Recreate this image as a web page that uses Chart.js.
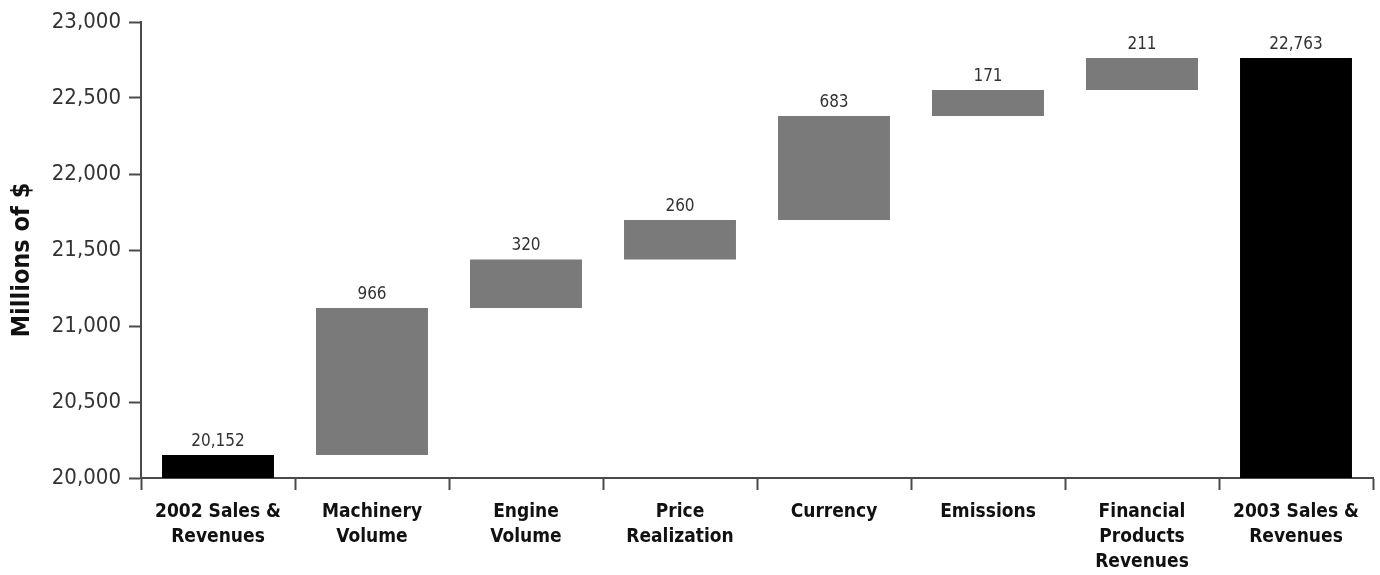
<!DOCTYPE html>
<html>
<head>
<meta charset="utf-8">
<script src="https://cdn.jsdelivr.net/npm/chart.js@4/dist/chart.umd.min.js"></script>
<style>
    html, body { margin: 0; padding: 0; background: #fff; }
    #wrap { width: 1380px; height: 575px; }
</style>
</head>
<body>
<div id="wrap"><canvas id="waterfall"></canvas></div>
<script>
// data
const categories = [
    ['2002 Sales &', 'Revenues'],
    ['Machinery', 'Volume'],
    ['Engine', 'Volume'],
    ['Price', 'Realization'],
    ['Currency'],
    ['Emissions'],
    ['Financial', 'Products', 'Revenues'],
    ['2003 Sales &', 'Revenues']
];
const startTotal = 20152;
const changes = [966, 320, 260, 683, 171, 211];
const endTotal = 22763;
const yTicks = [20000, 20500, 21000, 21500, 22000, 22500, 23000];
const yTitle = 'Millions of $';

const BASE = 20000;
const totalColor = '#000000';
const stepColor = '#7a7a7a';
const axisColor = '#4a4a4a';
const narrow = '"DejaVu Sans Condensed", "Liberation Sans Narrow", sans-serif';

// build floating ranges
let ranges = [[BASE, startTotal]];
let labels = [startTotal];
let colors = [totalColor];
let run = startTotal;
changes.forEach(c => {
    ranges.push([run, run + c]);
    labels.push(c);
    colors.push(stepColor);
    run += c;
});
ranges.push([BASE, endTotal]);
labels.push(endTotal);
colors.push(totalColor);

const fmt = (v) => v.toLocaleString('en-US');

// value labels on top of each bar + y axis title
const valueLabels = {
    id: 'valueLabels',
    afterDatasetsDraw(chart) {
        const ctx = chart.ctx;
        const meta = chart.getDatasetMeta(0);
        ctx.save();
        ctx.font = '17px ' + narrow;
        ctx.fillStyle = '#333';
        ctx.textAlign = 'center';
        ctx.textBaseline = 'bottom';
        meta.data.forEach((bar, i) => {
            const top = Math.min(bar.y, bar.base);
            ctx.fillText(fmt(labels[i]), bar.x, top - 5);
        });
        ctx.restore();

        // axis title, a bit below the middle like the original
        const area = chart.chartArea;
        ctx.save();
        ctx.translate(22, (area.top + area.bottom) / 2 + 10);
        ctx.rotate(-Math.PI / 2);
        ctx.font = 'bold 25px ' + narrow;
        ctx.fillStyle = '#111';
        ctx.textAlign = 'center';
        ctx.textBaseline = 'middle';
        ctx.fillText(yTitle, 0, 0);
        ctx.restore();
    }
};

const chart = new Chart(document.getElementById('waterfall'), {
    type: 'bar',
    data: {
        labels: categories,
        datasets: [{
            data: ranges,
            backgroundColor: colors,
            borderWidth: 0,
            categoryPercentage: 1,
            barPercentage: 0.727
        }]
    },
    options: {
        responsive: true,
        maintainAspectRatio: false,
        animation: false,
        layout: { padding: { top: 22, right: 7, left: 0, bottom: 0 } },
        plugins: {
            legend: { display: false },
            tooltip: { enabled: false }
        },
        scales: {
            x: {
                grid: {
                    offset: true,
                    drawOnChartArea: false,
                    drawTicks: true,
                    tickLength: 12,
                    tickWidth: 2,
                    tickColor: axisColor
                },
                border: { display: true, color: axisColor, width: 2 },
                ticks: {
                    color: '#111',
                    padding: 10,
                    maxRotation: 0,
                    autoSkip: false,
                    font: { family: narrow, size: 19, weight: 'bold', lineHeight: 1.3 }
                },
                afterFit: (scale) => { scale.height = 97; }
            },
            y: {
                min: 20000,
                max: 23000,
                afterBuildTicks: (scale) => { scale.ticks = yTicks.map(v => ({ value: v })); },
                grid: {
                    drawOnChartArea: false,
                    drawTicks: true,
                    tickLength: 12,
                    tickWidth: 2,
                    tickColor: axisColor
                },
                border: { display: true, color: axisColor, width: 2 },
                ticks: {
                    color: '#333',
                    padding: 8,
                    callback: (v) => fmt(v),
                    font: { family: narrow, size: 22 }
                },
                afterFit: (scale) => { scale.width = 141; }
            }
        }
    },
    plugins: [valueLabels]
});
</script>
</body>
</html>
